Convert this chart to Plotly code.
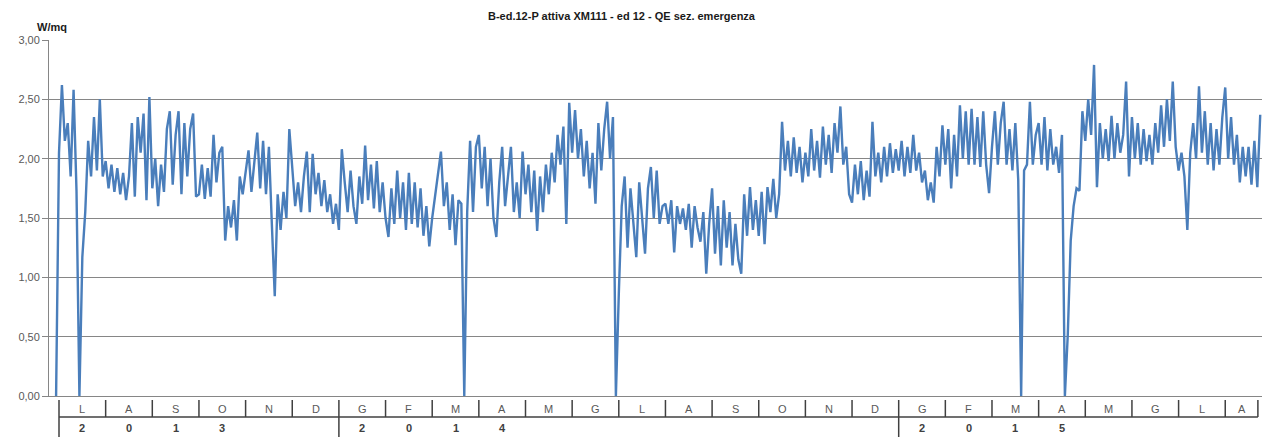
import plotly.graph_objects as go

# ---------------- data (W/mq) ----------------
months = ["L", "A", "S", "O", "N", "D",
          "G", "F", "M", "A", "M", "G", "L", "A", "S", "O", "N", "D",
          "G", "F", "M", "A", "M", "G", "L", "A"]
years = ["2013", "2014", "2015"]
year_start_month = [0, 6, 18]   # index of first month of each year group

# 16 samples per month (end of June 2013 lead-in sample first)
vals_2013 = [
    0.00,
    # Jul
    2.05, 2.62, 2.15, 2.30, 1.85, 2.58, 1.73, 0.00, 1.17, 1.55, 2.15, 1.85, 2.35, 1.90, 2.50, 1.85,
    # Aug
    1.98, 1.75, 1.95, 1.72, 1.92, 1.70, 1.88, 1.65, 1.85, 2.30, 1.68, 2.35, 2.05, 2.38, 1.65, 2.52,
    # Sep
    1.75, 2.00, 1.60, 1.95, 1.72, 2.25, 2.40, 1.78, 2.20, 2.40, 1.70, 2.30, 1.85, 2.25, 2.38, 1.68,
    # Oct
    1.70, 1.95, 1.66, 1.92, 1.68, 2.20, 1.80, 2.05, 2.10, 1.31, 1.60, 1.42, 1.65, 1.31, 1.85, 1.70,
    # Nov
    1.90, 2.07, 1.72, 2.00, 2.22, 1.75, 2.15, 1.70, 2.10, 1.45, 0.84, 1.70, 1.40, 1.72, 1.50, 2.25,
    # Dec
    1.95, 1.60, 1.80, 1.55, 1.85, 2.06, 1.55, 2.04, 1.70, 1.88, 1.60, 1.82, 1.55, 1.70, 1.45, 1.62,
]
vals_2014 = [
    # Jan
    1.40, 2.08, 1.80, 1.55, 1.90, 1.60, 1.45, 1.85, 1.62, 2.11, 1.65, 1.95, 1.58, 1.98, 1.55, 1.80,
    # Feb
    1.50, 1.34, 1.75, 1.45, 1.90, 1.50, 1.80, 1.40, 1.88, 1.45, 1.80, 1.42, 1.75, 1.35, 1.60, 1.26,
    # Mar
    1.50, 1.70, 1.85, 2.06, 1.60, 1.80, 1.40, 1.70, 1.27, 1.65, 1.62, 0.00, 1.55, 2.15, 1.55, 2.10,
    # Apr
    2.20, 1.75, 2.10, 1.60, 2.00, 1.50, 1.34, 1.80, 2.10, 1.60, 1.85, 2.10, 1.55, 1.80, 1.50, 2.06,
    # May
    1.70, 1.95, 1.55, 1.90, 1.39, 1.85, 1.55, 1.95, 1.70, 2.05, 1.80, 2.20, 1.95, 2.27, 1.45, 2.47,
    # Jun
    2.05, 2.41, 2.00, 2.25, 1.85, 2.15, 1.75, 2.05, 1.62, 2.30, 1.90, 2.25, 2.48, 2.00, 2.35, 0.00,
    # Jul
    0.86, 1.60, 1.85, 1.25, 1.75, 1.45, 1.17, 1.80, 1.50, 1.20, 1.75, 1.93, 1.50, 1.90, 1.45, 1.60,
    # Aug
    1.62, 1.45, 1.65, 1.21, 1.60, 1.45, 1.58, 1.40, 1.62, 1.25, 1.60, 1.42, 1.30, 1.55, 1.03, 1.45,
    # Sep
    1.75, 1.20, 1.60, 1.10, 1.65, 1.25, 1.55, 1.10, 1.45, 1.15, 1.03, 1.70, 1.35, 1.76, 1.40, 1.65,
    # Oct
    1.35, 1.72, 1.28, 1.76, 1.55, 1.83, 1.50, 1.70, 2.31, 1.90, 2.15, 1.85, 2.18, 1.88, 2.10, 1.80,
    # Nov
    2.05, 1.85, 2.25, 1.90, 2.15, 1.84, 2.27, 1.95, 2.20, 1.88, 2.30, 2.05, 2.44, 1.95, 2.10, 1.70,
    # Dec
    1.63, 1.95, 1.70, 1.98, 1.65, 1.90, 1.68, 2.31, 1.85, 2.05, 1.80, 2.10, 1.85, 2.13, 1.88, 2.08,
]
vals_2015 = [
    # Jan
    1.90, 2.15, 1.85, 2.10, 1.88, 2.20, 1.90, 2.05, 1.80, 1.90, 1.65, 1.80, 1.63, 2.10, 1.85, 2.28,
    # Feb
    1.95, 2.25, 1.75, 2.20, 1.85, 2.45, 2.00, 2.40, 1.95, 2.42, 1.95, 2.35, 1.93, 2.40, 1.95, 1.71,
    # Mar
    2.10, 2.40, 1.95, 2.30, 2.48, 1.95, 2.25, 1.90, 2.30, 1.82, 0.00, 1.90, 1.95, 2.48, 1.95, 2.20,
    # Apr
    2.30, 1.95, 2.35, 1.90, 2.25, 1.95, 2.10, 1.88, 2.20, 0.00, 0.52, 1.31, 1.60, 1.75, 1.73, 2.40,
    # May
    2.15, 2.50, 2.20, 2.79, 1.76, 2.30, 2.00, 2.25, 1.98, 2.36, 2.00, 2.30, 2.05, 2.20, 2.65, 1.85,
    # Jun
    2.35, 2.00, 2.30, 1.95, 2.25, 1.98, 2.20, 1.95, 2.30, 2.05, 2.45, 2.10, 2.50, 2.15, 2.65, 2.10,
    # Jul
    1.90, 2.05, 1.85, 1.40, 2.05, 2.30, 2.00, 2.61, 2.05, 2.40, 1.95, 2.30, 1.90, 2.25, 1.95, 2.35,
    # Aug (partial)
    2.60, 2.00, 2.35, 1.95, 2.20, 1.80, 2.10, 1.85, 2.10, 1.78, 2.15, 1.76, 2.37,
]

values = vals_2013 + vals_2014 + vals_2015
SAMPLES_PER_MONTH = 16
x = [(i - 1) / SAMPLES_PER_MONTH for i in range(len(values))]   # month units, 0 = start of July 2013

# ---------------- layout constants ----------------
W, H = 1274, 437
ML, MR, MT, MB = 49, 12, 40, 41
plot_h = H - MT - MB
X_LEFT, X_RIGHT = -0.2144, 25.788
PERIOD_END = 25.70        # right edge of last (partial) month cell


def py(pixel_y):
    """pixel y (from top of figure) -> paper coordinate"""
    return (H - MB - pixel_y) / plot_h


fig = go.Figure()
fig.add_trace(go.Scatter(
    x=x, y=values, mode="lines",
    line=dict(color="#4A7EBB", width=2.4),
    hoverinfo="skip", showlegend=False,
))

shapes = []
annotations = []
month_edges = list(range(len(months))) + [PERIOD_END]
for e in month_edges:
    shapes.append(dict(type="line", xref="x", yref="paper", x0=e, x1=e,
                       y0=py(400), y1=py(417), line=dict(color="#404040", width=1.5)))
shapes.append(dict(type="line", xref="x", yref="paper", x0=0, x1=PERIOD_END,
                   y0=py(417), y1=py(417), line=dict(color="#404040", width=1.5)))
for s in year_start_month:
    shapes.append(dict(type="line", xref="x", yref="paper", x0=s, x1=s,
                       y0=py(417), y1=py(437), line=dict(color="#404040", width=1.5)))

for i, m in enumerate(months):
    left, right = month_edges[i], month_edges[i + 1]
    annotations.append(dict(x=(left + right) / 2, y=py(409), xref="x", yref="paper",
                            text=m, showarrow=False, xanchor="center", yanchor="middle",
                            font=dict(family="Liberation Sans", size=11, color="#595959")))
for yr, s in zip(years, year_start_month):
    for k, ch in enumerate(yr):
        annotations.append(dict(x=s + k + 0.5, y=py(428), xref="x", yref="paper",
                                text="<b>%s</b>" % ch, showarrow=False,
                                xanchor="center", yanchor="middle",
                                font=dict(family="Liberation Sans", size=11, color="#404040")))

annotations.append(dict(x=(622 - ML) / (W - ML - MR), y=py(16), xref="paper", yref="paper",
                        text="<b>B-ed.12-P attiva XM111 - ed 12 - QE sez. emergenza</b>",
                        showarrow=False, xanchor="center", yanchor="middle",
                        font=dict(family="Liberation Sans", size=11, color="#1a1a1a")))
annotations.append(dict(x=(52 - ML) / (W - ML - MR), y=py(27), xref="paper", yref="paper",
                        text="<b>W/mq</b>", showarrow=False, xanchor="center", yanchor="middle",
                        font=dict(family="Liberation Sans", size=11, color="#1a1a1a")))

fig.update_layout(
    width=W, height=H,
    margin=dict(l=ML, r=MR, t=MT, b=MB, pad=0),
    paper_bgcolor="white", plot_bgcolor="white",
    separators=",.",
    shapes=shapes, annotations=annotations,
    xaxis=dict(range=[X_LEFT, X_RIGHT], showgrid=False, zeroline=False,
               showticklabels=False, ticks="", showline=True,
               linecolor="#868686", linewidth=1, fixedrange=True),
    yaxis=dict(range=[0, 3], dtick=0.5, tick0=0, tickformat=".2f",
               showgrid=True, gridcolor="#868686", gridwidth=1,
               zeroline=False, showline=True, linecolor="#868686", linewidth=1,
               ticks="outside", ticklen=6, tickcolor="#868686",
               tickfont=dict(family="Liberation Sans", size=11, color="#595959"),
               fixedrange=True),
)

# remove the browser's default 8px page margin so the figure sits at the page origin
fig.write_html("out.html",
               config={"displayModeBar": False, "staticPlot": True},
               post_script="document.body.style.margin='0';document.body.style.overflow='hidden';")
